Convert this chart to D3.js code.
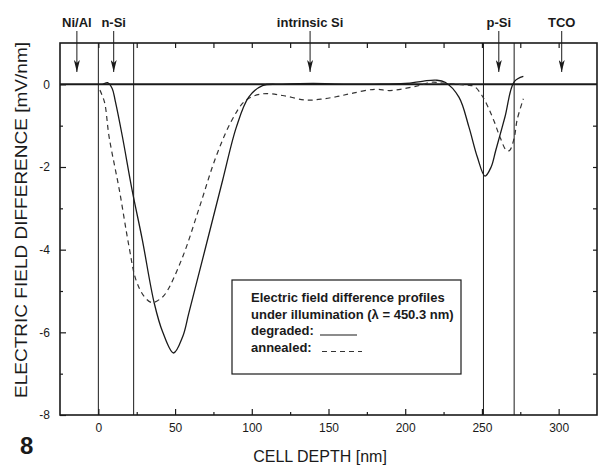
<!DOCTYPE html>
<html>
<head>
<meta charset="utf-8">
<script src="https://cdn.jsdelivr.net/npm/d3@7"></script>
<style>
    body { margin: 0; background: #fff; }
    text { font-family: "Liberation Sans", Arial, sans-serif; fill: #1a1a1a; }
</style>
</head>
<body>
<svg id="svg" width="601" height="468"></svg>
<script>
    // degraded sample (solid line)
    var depthDegraded = [3, 6, 9, 11, 15.6, 22, 28.6, 36.4, 42, 49, 55, 59, 70, 81, 90, 98, 107, 120, 140, 160, 180, 200, 212, 220, 226, 235, 241.5, 247, 252, 256, 259, 265, 271, 277];
    var fieldDegraded = [0.0, 0.04, -0.1, -0.4, -1.25, -2.56, -3.75, -5.29, -6.0, -6.5, -6.1, -5.53, -3.93, -2.32, -1.03, -0.31, -0.03, 0.0, 0.02, 0.0, 0.0, 0.02, 0.08, 0.1, 0.05, -0.31, -1.03, -1.76, -2.22, -2.0, -1.6, -0.79, 0.06, 0.19];

    // annealed sample (dashed line)
    var depthAnnealed = [1, 4, 7, 13.7, 20, 24.5, 30, 35, 40, 44, 55, 66, 76.6, 87, 96, 107, 120, 135, 145, 155, 165, 180, 190, 200, 210, 217, 225, 240, 245, 250, 254, 258, 262, 266, 268, 271, 273, 277];
    var fieldAnnealed = [-0.14, -0.43, -1.27, -2.56, -3.93, -4.73, -5.14, -5.28, -5.2, -5.05, -4.17, -2.96, -1.76, -0.87, -0.39, -0.23, -0.27, -0.38, -0.36, -0.3, -0.22, -0.12, -0.15, -0.1, -0.02, 0.05, 0.03, -0.02, -0.05, -0.27, -0.55, -0.9, -1.3, -1.6, -1.6, -1.3, -0.85, -0.35];

    var xTicks = [0, 50, 100, 150, 200, 250, 300];
    var xMinorTicks = [25, 75, 125, 175, 225, 275];
    var xTopTicks = [0, 25, 50, 75, 100, 125, 150, 175, 200, 225, 250, 275, 300];
    var yTicks = [0, -2, -4, -6, -8];
    var yMinorTicks = [-1, -3, -5, -7];
    var yRightTicks = [-1, -2, -3, -4, -5, -6, -7];

    var boundaries = [0, 23, 251, 271];
    var layerNames = ["Ni/Al", "n-Si", "intrinsic Si", "p-Si", "TCO"];
    var layerDepth = [-14, 10, 138, 261, 302];

    var legendLines = ["Electric field difference profiles", "under illumination (\u03bb = 450.3 nm)", "degraded:", "annealed:"];

    function draw() {
        var ink = "#1a1a1a";
        var svg = d3.select("#svg");
        var pLeft = 60, pRight = 597, pTop = 43, pBottom = 415;

        var x = d3.scaleLinear().domain([-25, 325]).range([pLeft, pRight]);
        var y = d3.scaleLinear().domain([-8, 1]).range([pBottom, pTop]);

        function axisStyle(g) {
            g.select(".domain").remove();
            g.selectAll("line").attr("stroke", ink).attr("stroke-width", 1.2);
            g.selectAll("text").attr("font-size", "12px").attr("fill", ink)
                .attr("font-family", "Liberation Sans, Arial, sans-serif");
        }

        svg.append("g").attr("transform", "translate(0," + pBottom + ")")
            .call(d3.axisBottom(x).tickValues(xTicks).tickSize(-6).tickPadding(8).tickFormat(function (d) { return d; }))
            .call(axisStyle);
        svg.append("g").attr("transform", "translate(0," + pBottom + ")")
            .call(d3.axisBottom(x).tickValues(xMinorTicks).tickSize(-3).tickFormat(""))
            .call(axisStyle);
        svg.append("g").attr("transform", "translate(0," + pTop + ")")
            .call(d3.axisTop(x).tickValues(xTopTicks).tickSize(-5).tickFormat(""))
            .call(axisStyle);
        svg.append("g").attr("transform", "translate(" + pLeft + ",0)")
            .call(d3.axisLeft(y).tickValues(yTicks).tickSize(-6).tickPadding(10).tickFormat(function (d) { return d; }))
            .call(axisStyle);
        svg.append("g").attr("transform", "translate(" + pLeft + ",0)")
            .call(d3.axisLeft(y).tickValues(yMinorTicks).tickSize(-3).tickFormat(""))
            .call(axisStyle);
        svg.append("g").attr("transform", "translate(" + pRight + ",0)")
            .call(d3.axisRight(y).tickValues(yRightTicks).tickSize(-4).tickFormat(""))
            .call(axisStyle);

        // layer boundaries
        svg.selectAll(".boundary").data(boundaries).enter().append("line")
            .attr("class", "boundary")
            .attr("x1", function (d) { return x(d); }).attr("x2", function (d) { return x(d); })
            .attr("y1", pTop).attr("y2", pBottom)
            .attr("stroke", ink).attr("stroke-width", 1);

        // frame
        svg.append("rect")
            .attr("x", pLeft).attr("y", pTop)
            .attr("width", pRight - pLeft).attr("height", pBottom - pTop)
            .attr("fill", "none").attr("stroke", ink).attr("stroke-width", 1.6);

        // zero line
        svg.append("line")
            .attr("x1", pLeft).attr("x2", pRight)
            .attr("y1", y(0)).attr("y2", y(0))
            .attr("stroke", ink).attr("stroke-width", 2);

        var line = d3.line()
            .x(function (d) { return x(d[0]); })
            .y(function (d) { return y(d[1]); })
            .curve(d3.curveCatmullRom.alpha(0.5));

        svg.append("path")
            .attr("d", line(d3.zip(depthAnnealed, fieldAnnealed)))
            .attr("fill", "none").attr("stroke", "#333").attr("stroke-width", 1.2)
            .attr("stroke-dasharray", "5,4");
        svg.append("path")
            .attr("d", line(d3.zip(depthDegraded, fieldDegraded)))
            .attr("fill", "none").attr("stroke", ink).attr("stroke-width", 1.3);

        // layer arrows
        var defs = svg.append("defs");
        defs.append("marker").attr("id", "head")
            .attr("viewBox", "0 0 6 12").attr("refX", 3).attr("refY", 12)
            .attr("markerWidth", 6).attr("markerHeight", 12)
            .attr("markerUnits", "userSpaceOnUse").attr("orient", "0")
            .append("path").attr("d", "M0,0 L3,12 L6,0 L3,3 Z").attr("fill", ink);

        layerNames.forEach(function (name, i) {
            var px = x(layerDepth[i]);
            svg.append("text")
                .attr("x", px).attr("y", 27)
                .attr("text-anchor", "middle")
                .attr("font-size", "13px").attr("font-weight", "bold")
                .text(name);
            svg.append("line")
                .attr("x1", px).attr("x2", px)
                .attr("y1", 31).attr("y2", 72)
                .attr("stroke", ink).attr("stroke-width", 1)
                .attr("marker-end", "url(#head)");
        });

        // legend
        svg.append("rect")
            .attr("x", 232).attr("y", 280).attr("width", 229).attr("height", 94)
            .attr("fill", "#fff").attr("stroke", ink).attr("stroke-width", 1.2);
        legendLines.forEach(function (t, i) {
            svg.append("text")
                .attr("x", 251).attr("y", 302 + i * 16.5)
                .attr("font-size", "13px").attr("font-weight", "bold")
                .text(t);
        });
        svg.append("line").attr("x1", 320).attr("x2", 357).attr("y1", 335).attr("y2", 335)
            .attr("stroke", ink).attr("stroke-width", 1.2);
        svg.append("line").attr("x1", 322).attr("x2", 362).attr("y1", 351.5).attr("y2", 351.5)
            .attr("stroke", "#333").attr("stroke-width", 1.2).attr("stroke-dasharray", "5,4");

        // axis titles
        svg.append("text")
            .attr("x", 320).attr("y", 462)
            .attr("text-anchor", "middle").attr("font-size", "16px")
            .text("CELL DEPTH [nm]");
        svg.append("text")
            .attr("transform", "translate(27,220) rotate(-90)")
            .attr("text-anchor", "middle").attr("font-size", "16px")
            .attr("textLength", 356).attr("lengthAdjust", "spacingAndGlyphs")
            .text("ELECTRIC FIELD DIFFERENCE [mV/nm]");
        svg.append("text")
            .attr("x", 20).attr("y", 454)
            .attr("font-size", "24px").attr("font-weight", "bold")
            .text("8");
    }

    window.addEventListener('DOMContentLoaded', draw);
</script>
</body>
</html>
